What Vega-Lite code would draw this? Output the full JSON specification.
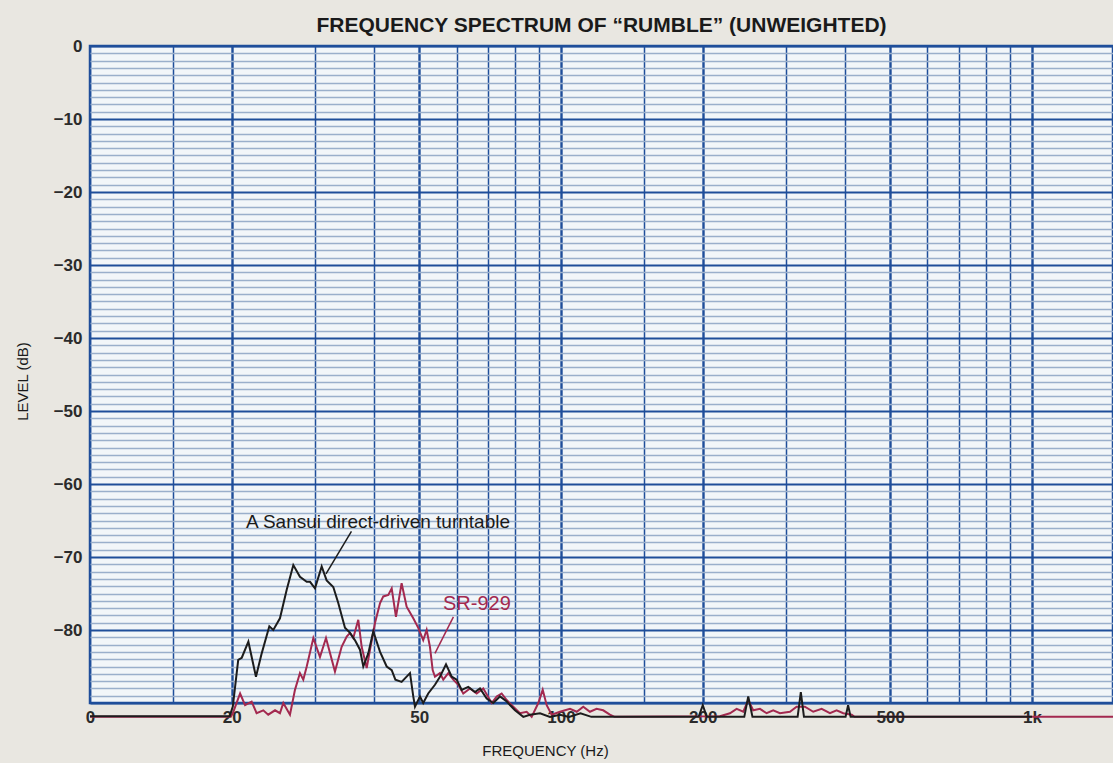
{
  "$schema": "https://vega.github.io/schema/vega-lite/v6.json",
  "autosize": {"type": "none"},
  "width": 1023,
  "height": 657,
  "padding": {"left": 90, "top": 46, "right": 0, "bottom": 60},
  "background": "#e9e7e1",
  "config": {
    "view": {"stroke": "#1f4e9a", "strokeWidth": 2.5, "fill": "#f2f6f9"},
    "font": "Liberation Sans"
  },
  "title": {
    "text": "FREQUENCY SPECTRUM OF “RUMBLE” (UNWEIGHTED)",
    "font": "Liberation Sans",
    "fontSize": 21,
    "fontWeight": "bold",
    "color": "#1a1a1a",
    "offset": 1,
    "anchor": "middle"
  },
  "datasets": {
    "sansui": [
      {"freq": 10, "db": -91.8}, {"freq": 19.8, "db": -91.8}, {"freq": 20.1, "db": -90.5},
      {"freq": 20.64, "db": -84.1}, {"freq": 21.0, "db": -83.8}, {"freq": 21.69, "db": -81.6},
      {"freq": 22.51, "db": -86.4}, {"freq": 23.15, "db": -83.2}, {"freq": 24.03, "db": -79.5},
      {"freq": 24.5, "db": -80.0}, {"freq": 25.31, "db": -78.4}, {"freq": 26.16, "db": -74.5},
      {"freq": 27.02, "db": -71.1}, {"freq": 27.91, "db": -72.7}, {"freq": 28.85, "db": -73.4},
      {"freq": 29.32, "db": -73.4}, {"freq": 30.04, "db": -74.3}, {"freq": 31.04, "db": -71.3},
      {"freq": 31.8, "db": -73.2}, {"freq": 32.85, "db": -74.1}, {"freq": 33.66, "db": -76.3},
      {"freq": 34.78, "db": -79.7}, {"freq": 35.65, "db": -80.4}, {"freq": 36.53, "db": -81.4},
      {"freq": 37.43, "db": -82.7}, {"freq": 38.04, "db": -85.0}, {"freq": 38.98, "db": -83.2},
      {"freq": 39.94, "db": -80.2}, {"freq": 41.29, "db": -83.0}, {"freq": 42.65, "db": -85.0},
      {"freq": 43.71, "db": -85.5}, {"freq": 44.5, "db": -86.8}, {"freq": 45.88, "db": -87.1},
      {"freq": 47.8, "db": -85.9}, {"freq": 48.57, "db": -89.1}, {"freq": 48.98, "db": -90.5},
      {"freq": 50.18, "db": -89.1}, {"freq": 50.99, "db": -90.0}, {"freq": 52.25, "db": -88.7},
      {"freq": 54.0, "db": -87.5}, {"freq": 55.34, "db": -86.4}, {"freq": 57.0, "db": -84.7},
      {"freq": 58.61, "db": -86.4}, {"freq": 60.06, "db": -86.8}, {"freq": 61.54, "db": -88.2},
      {"freq": 63.55, "db": -87.8}, {"freq": 65.68, "db": -88.5}, {"freq": 67.3, "db": -88.0},
      {"freq": 69.54, "db": -89.4}, {"freq": 71.81, "db": -90.0}, {"freq": 74.2, "db": -89.1},
      {"freq": 76.68, "db": -89.8}, {"freq": 79.86, "db": -91.0}, {"freq": 83.17, "db": -91.9},
      {"freq": 85.94, "db": -91.6}, {"freq": 90.25, "db": -91.4}, {"freq": 94.76, "db": -91.9},
      {"freq": 99.5, "db": -91.6}, {"freq": 104, "db": -91.9}, {"freq": 110, "db": -91.4},
      {"freq": 116, "db": -91.9}, {"freq": 196, "db": -91.9}, {"freq": 200, "db": -90.3},
      {"freq": 204, "db": -91.9}, {"freq": 245, "db": -91.9}, {"freq": 249.8, "db": -89.1},
      {"freq": 255, "db": -91.9}, {"freq": 318, "db": -91.9}, {"freq": 323, "db": -88.5},
      {"freq": 328, "db": -91.9}, {"freq": 402, "db": -91.9}, {"freq": 407, "db": -90.3},
      {"freq": 412, "db": -91.9}, {"freq": 1000, "db": -91.9}
    ],
    "sr929": [
      {"freq": 10, "db": -91.9}, {"freq": 19.9, "db": -91.9}, {"freq": 20.1, "db": -91.4},
      {"freq": 20.83, "db": -88.7}, {"freq": 21.34, "db": -90.3}, {"freq": 22.04, "db": -89.8},
      {"freq": 22.58, "db": -91.4}, {"freq": 23.33, "db": -91.0}, {"freq": 23.9, "db": -91.6},
      {"freq": 24.71, "db": -91.0}, {"freq": 25.31, "db": -91.4}, {"freq": 25.73, "db": -90.0},
      {"freq": 26.58, "db": -91.6}, {"freq": 27.24, "db": -88.2}, {"freq": 27.91, "db": -85.9},
      {"freq": 28.37, "db": -86.8}, {"freq": 28.85, "db": -85.0}, {"freq": 29.8, "db": -81.1},
      {"freq": 30.78, "db": -83.7}, {"freq": 31.7, "db": -81.1}, {"freq": 33.12, "db": -85.7},
      {"freq": 34.22, "db": -82.3}, {"freq": 35.08, "db": -80.9}, {"freq": 35.65, "db": -80.4},
      {"freq": 36.22, "db": -81.1}, {"freq": 37.12, "db": -78.6}, {"freq": 37.74, "db": -82.3},
      {"freq": 38.68, "db": -85.2}, {"freq": 39.31, "db": -82.7}, {"freq": 40.29, "db": -79.0},
      {"freq": 41.29, "db": -76.3}, {"freq": 41.95, "db": -75.4}, {"freq": 42.99, "db": -75.2},
      {"freq": 43.71, "db": -74.3}, {"freq": 44.63, "db": -78.2}, {"freq": 45.88, "db": -73.6},
      {"freq": 47.02, "db": -76.8}, {"freq": 48.57, "db": -78.4}, {"freq": 49.77, "db": -79.7},
      {"freq": 50.99, "db": -81.4}, {"freq": 51.85, "db": -80.0}, {"freq": 52.7, "db": -82.3},
      {"freq": 53.4, "db": -85.5}, {"freq": 54.0, "db": -86.4}, {"freq": 55.34, "db": -85.9},
      {"freq": 56.24, "db": -86.8}, {"freq": 57.63, "db": -85.9}, {"freq": 59.06, "db": -86.8},
      {"freq": 60.52, "db": -87.5}, {"freq": 62.02, "db": -88.7}, {"freq": 64.09, "db": -88.0},
      {"freq": 66.22, "db": -88.7}, {"freq": 68.39, "db": -88.0}, {"freq": 71.26, "db": -90.0},
      {"freq": 73.02, "db": -89.1}, {"freq": 74.82, "db": -88.7}, {"freq": 76.68, "db": -89.6},
      {"freq": 79.2, "db": -90.5}, {"freq": 81.83, "db": -91.4}, {"freq": 84.55, "db": -91.2},
      {"freq": 86.65, "db": -91.9}, {"freq": 89.5, "db": -90.0}, {"freq": 91.45, "db": -88.2},
      {"freq": 93.25, "db": -90.3}, {"freq": 95.55, "db": -91.6}, {"freq": 99.5, "db": -91.2},
      {"freq": 104.5, "db": -90.8}, {"freq": 108.0, "db": -91.2}, {"freq": 111.5, "db": -90.5},
      {"freq": 115.2, "db": -91.2}, {"freq": 119.0, "db": -90.8}, {"freq": 122.9, "db": -91.0},
      {"freq": 127.0, "db": -91.6}, {"freq": 130, "db": -91.9}, {"freq": 217.5, "db": -91.8},
      {"freq": 228.4, "db": -91.4}, {"freq": 236.0, "db": -90.8}, {"freq": 243.8, "db": -91.2},
      {"freq": 249.8, "db": -89.6}, {"freq": 255.9, "db": -91.0}, {"freq": 264.5, "db": -90.8},
      {"freq": 273.3, "db": -91.4}, {"freq": 282.2, "db": -91.0}, {"freq": 291.6, "db": -91.4},
      {"freq": 306.3, "db": -91.2}, {"freq": 316.4, "db": -90.5}, {"freq": 329.5, "db": -90.5},
      {"freq": 343.2, "db": -91.2}, {"freq": 357.6, "db": -90.8}, {"freq": 372.4, "db": -91.4},
      {"freq": 384.8, "db": -91.0}, {"freq": 397.5, "db": -91.4}, {"freq": 414.2, "db": -91.6},
      {"freq": 420, "db": -91.9}, {"freq": 1486, "db": -91.9}
    ]
  },
  "encoding": {
    "x": {
      "field": "freq",
      "type": "quantitative",
      "scale": {"type": "log", "domain": [10, 1486], "nice": false},
      "axis": {
        "values": [10, 15, 20, 30, 40, 50, 60, 70, 80, 90, 100, 150, 200, 300, 400, 500, 600, 700, 800, 900, 1000],
        "grid": true,
        "gridColor": "#1f4e9a",
        "gridOpacity": 1,
        "gridWidth": {"condition": {"test": "indexof([20,50,100,200,500,1000], datum.value) >= 0", "value": 2.4}, "value": 1.5},
        "ticks": false,
        "domain": false,
        "labelFlush": false,
        "labelOverlap": false,
        "labelExpr": "datum.value == 10 ? '0' : datum.value == 1000 ? '1k' : indexof([20,50,100,200,500], datum.value) >= 0 ? '' + datum.value : ''",
        "labelFont": "Liberation Sans",
        "labelFontSize": 17,
        "labelFontWeight": "bold",
        "labelColor": "#2b2b2b",
        "labelPadding": 6,
        "title": "FREQUENCY (Hz)",
        "titleFont": "Liberation Sans",
        "titleFontSize": 15,
        "titleFontWeight": "normal",
        "titleColor": "#1a1a1a",
        "titleX": 455,
        "titleY": 47,
        "titleBaseline": "middle"
      }
    },
    "y": {
      "field": "db",
      "type": "quantitative",
      "scale": {"domain": [-90, 0], "nice": false, "zero": false},
      "axis": {
        "values": [0, -1, -2, -3, -4, -5, -6, -7, -8, -9, -10, -11, -12, -13, -14, -15, -16, -17, -18, -19, -20, -21, -22, -23, -24, -25, -26, -27, -28, -29, -30, -31, -32, -33, -34, -35, -36, -37, -38, -39, -40, -41, -42, -43, -44, -45, -46, -47, -48, -49, -50, -51, -52, -53, -54, -55, -56, -57, -58, -59, -60, -61, -62, -63, -64, -65, -66, -67, -68, -69, -70, -71, -72, -73, -74, -75, -76, -77, -78, -79, -80, -81, -82, -83, -84, -85, -86, -87, -88, -89, -90],
        "grid": true,
        "gridOpacity": 1,
        "gridColor": {"condition": {"test": "datum.value % 10 === 0", "value": "#1f4e9a"}, "value": "#9aafcb"},
        "gridWidth": {"condition": {"test": "datum.value % 10 === 0", "value": 2.2}, "value": 1.3},
        "ticks": false,
        "domain": false,
        "labelOverlap": false,
        "labelExpr": "(datum.value % 10 === 0 && datum.value > -90) ? format(datum.value, 'd') : ''",
        "labelFont": "Liberation Sans",
        "labelFontSize": 17,
        "labelFontWeight": "bold",
        "labelColor": "#2b2b2b",
        "labelPadding": 8,
        "title": "LEVEL (dB)",
        "titleFont": "Liberation Sans",
        "titleFontSize": 15,
        "titleFontWeight": "normal",
        "titleColor": "#1a1a1a",
        "titleX": -68,
        "titleY": 335,
        "titleBaseline": "middle"
      }
    }
  },
  "layer": [
    {
      "data": {"name": "sr929"},
      "mark": {"type": "line", "color": "#a3294f", "strokeWidth": 2, "clip": false}
    },
    {
      "data": {"name": "sansui"},
      "mark": {"type": "line", "color": "#1c1c1c", "strokeWidth": 2, "clip": false}
    },
    {
      "data": {"values": [{"freq": 35.9, "db": -66.5, "freq2": 31.7, "db2": -72.3}]},
      "mark": {"type": "rule", "color": "#1c1c1c", "strokeWidth": 1.5},
      "encoding": {"x2": {"field": "freq2"}, "y2": {"field": "db2"}}
    },
    {
      "data": {"values": [{"freq": 59.1, "db": -78.2, "freq2": 54.0, "db2": -83.2}]},
      "mark": {"type": "rule", "color": "#a3294f", "strokeWidth": 1.5},
      "encoding": {"x2": {"field": "freq2"}, "y2": {"field": "db2"}}
    },
    {
      "data": {"values": [{"freq": 40.88, "db": -65.2, "label": "A Sansui direct-driven turntable"}]},
      "mark": {"type": "text", "color": "#1a1a1a", "fontSize": 19, "font": "Liberation Sans", "align": "center", "baseline": "middle"},
      "encoding": {"text": {"field": "label"}}
    },
    {
      "data": {"values": [{"freq": 66.3, "db": -76.4, "label": "SR-929"}]},
      "mark": {"type": "text", "color": "#a3294f", "fontSize": 20, "font": "Liberation Sans", "align": "center", "baseline": "middle"},
      "encoding": {"text": {"field": "label"}}
    }
  ]
}
